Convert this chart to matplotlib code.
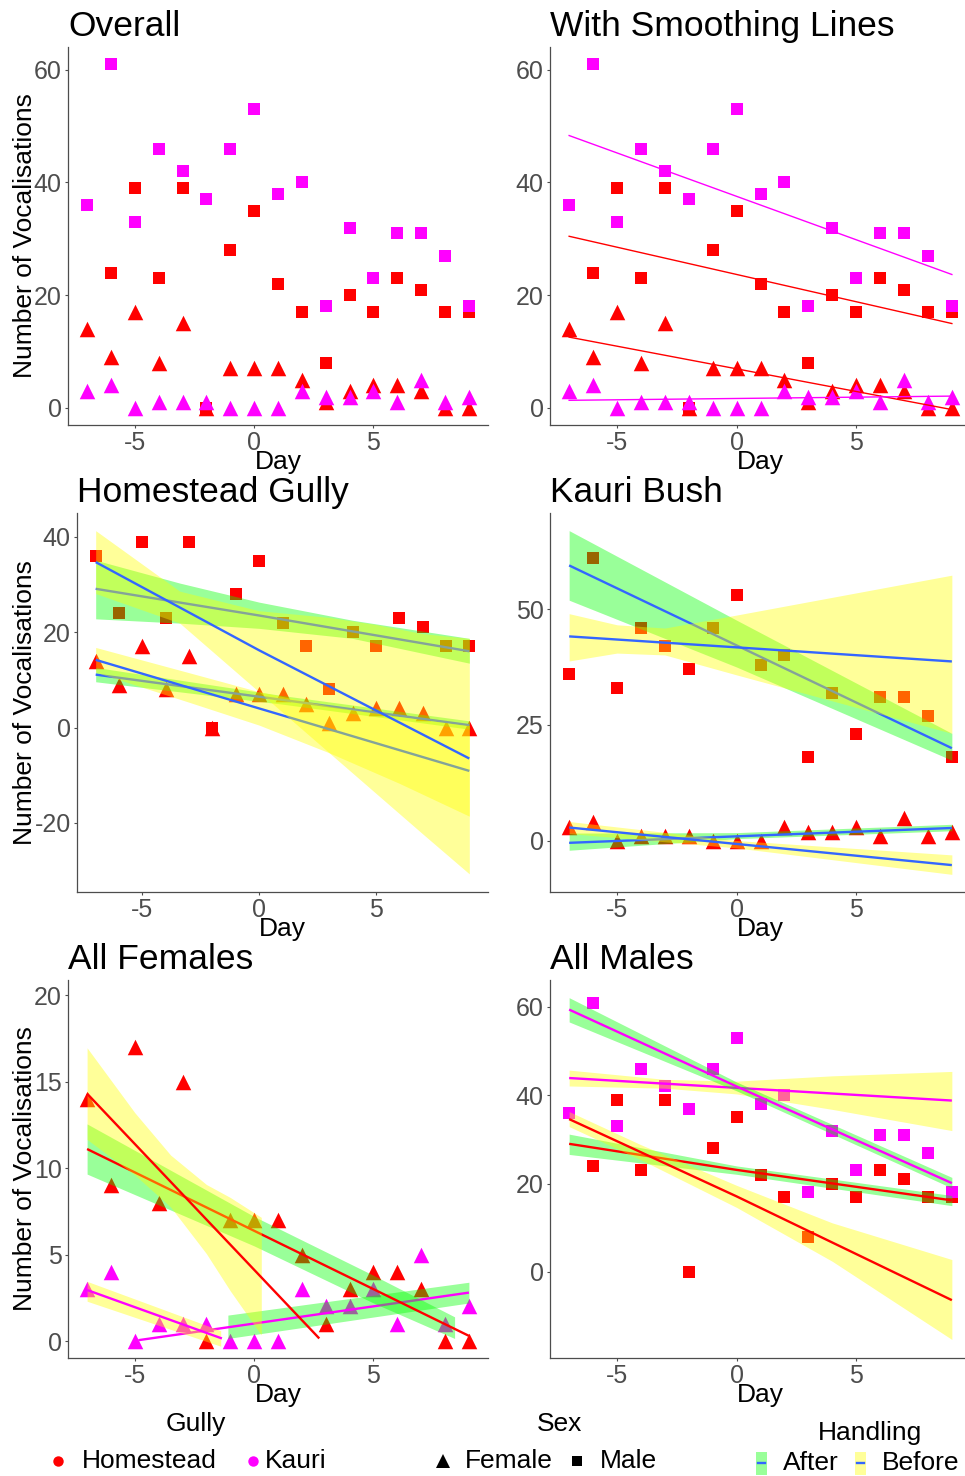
import numpy as np
import matplotlib
matplotlib.use("Agg")
import matplotlib.pyplot as plt
from matplotlib.patches import Rectangle

plt.rcParams['font.family'] = ['Liberation Sans', 'DejaVu Sans']

# ---- observations ----
days = [-7, -6, -5, -4, -3, -2, -1, 0, 1, 2, 3, 4, 5, 6, 7, 8, 9]
homestead_male = [36, 24, 39, 23, 39, 0, 28, 35, 22, 17, 8, 20, 17, 23, 21, 17, 17]
homestead_female = [14, 9, 17, 8, 15, 0, 7, 7, 7, 5, 1, 3, 4, 4, 3, 0, 0]
kauri_male = [36, 61, 33, 46, 42, 37, 46, 53, 38, 40, 18, 32, 23, 31, 31, 27, 18]
kauri_female = [3, 4, 0, 1, 1, 1, 0, 0, 0, 3, 2, 2, 3, 1, 5, 1, 2]

# ---- smoothers (line points, band lower/upper) ----
# Homestead Gully
hg_fa_x, hg_fa_y = [-7, 9], [11.1, 0.5]
hg_fa_bx, hg_fa_lo, hg_fa_hi = [-7, 1, 9], [9.6, 4.9, -0.35], [12.6, 6.7, 1.4]
hg_fb_x, hg_fb_y = [-7, 9], [14.2, -9.1]
hg_fb_bx = [-7, -3, 0, 3, 6, 9]
hg_fb_lo = [11.6, 5.3, 0.5, -5.3, -11.7, -18.6]
hg_fb_hi = [16.8, 11.5, 7.5, 4.5, 2.3, 0.4]
hg_ma_x, hg_ma_y = [-7, 0, 9], [29.1, 23.5, 16.0]
hg_ma_bx = [-7, -3.4, 0, 4, 9]
hg_ma_lo = [22.8, 21.9, 20.8, 18.7, 13.5]
hg_ma_hi = [35.1, 30.3, 26.3, 22.5, 18.7]
hg_mb_x, hg_mb_y = [-7, 0, 9], [34.7, 16.2, -6.5]
hg_mb_bx = [-7, -3.4, 0, 3, 5, 7, 9]
hg_mb_lo = [28.1, 21.9, 7.45, -5.3, -13.8, -22.3, -30.7]
hg_mb_hi = [41.3, 28.6, 24.5, 23.1, 21.6, 19.7, 18.7]

# Kauri Bush
kb_fa_x, kb_fa_y = [-7, 9], [-0.4, 2.8]
kb_fa_bx, kb_fa_lo, kb_fa_hi = [-7, 0, 9], [-2.0, 0.5, 2.2], [1.7, 1.8, 3.6]
kb_fb_x, kb_fb_y = [-7, 9], [2.9, -5.2]
kb_fb_bx, kb_fb_lo, kb_fb_hi = [-7, 0, 9], [1.6, -1.5, -7.2], [4.2, 0.1, -3.0]
kb_ma_x, kb_ma_y = [-7, 9], [59.4, 20.0]
kb_ma_bx, kb_ma_lo, kb_ma_hi = [-7, 0, 9], [51.9, 37.5, 17.4], [66.9, 47.6, 23.2]
kb_mb_x, kb_mb_y = [-7, 9], [44.1, 38.7]
kb_mb_bx = [-7, -5, -3, 0, 9]
kb_mb_lo = [38.8, 40.5, 40.1, 35.8, 23.2]
kb_mb_hi = [49.0, 46.6, 45.9, 48.7, 57.3]

# All Females
af_ka_x, af_ka_y = [-4.85, 9], [0.05, 2.8]
af_ka_bx, af_ka_lo, af_ka_hi = [-1.1, 9], [0.15, 2.2], [1.5, 3.4]
af_kb_x, af_kb_y = [-7, -1.35], [2.95, 0.15]
af_kb_bx, af_kb_lo, af_kb_hi = [-7, -1.4], [2.3, -0.3], [3.45, 0.6]
af_ha_x, af_ha_y = [-7, 9], [11.1, 0.3]
af_ha_bx, af_ha_lo, af_ha_hi = [-7, 0, 5, 8.4], [9.65, 5.5, 2.2, 0.15], [12.55, 7.2, 3.8, 1.4]
af_hb_x, af_hb_y = [-7, 2.73], [14.3, 0.15]
af_hb_bx = [-7, -5, -3.5, -2, -1, 0.3]
af_hb_lo = [11.65, 9.6, 7.75, 5.05, 2.9, 0.35]
af_hb_hi = [16.95, 13.2, 10.75, 9.05, 8.3, 7.15]

# All Males
am_kb_x, am_kb_y = [-7, 9], [43.9, 38.8]
am_kb_bx = [-7, -3, 0, 4, 9]
am_kb_lo = [42.1, 41.6, 40.3, 36.8, 32.0]
am_kb_hi = [45.7, 43.6, 43.2, 44.4, 45.4]
am_ka_x, am_ka_y = [-7, 0, 9], [59.4, 42.0, 20.1]
am_ka_bx, am_ka_lo, am_ka_hi = [-7, 0, 9], [56.6, 41.0, 19.0], [62.1, 43.0, 21.4]
am_ha_x, am_ha_y = [-7, 0, 9], [29.0, 23.1, 16.2]
am_ha_bx, am_ha_lo, am_ha_hi = [-7, 0, 9], [26.6, 22.1, 15.0], [31.2, 24.0, 17.3]
am_hb_x, am_hb_y = [-7, 0, 9], [34.6, 17.1, -6.4]
am_hb_bx = [-7, -4, 0, 4, 9]
am_hb_lo = [32.9, 25.4, 14.6, 2.4, -15.3]
am_hb_hi = [36.3, 28.8, 19.6, 11.1, 2.8]

RED = '#FF0000'
MAGENTA = '#FF00FF'
BLUE = '#3366FF'
GREEN = '#00FF00'
YELLOW = '#FFFF00'
AXCOL = '#4D4D4D'

W, H = 965, 1476
fig = plt.figure(figsize=(W / 100, H / 100), dpi=100)


def add_ax(left, top, right, bottom):
    return fig.add_axes([left / W, 1 - bottom / H, (right - left) / W, (bottom - top) / H])


def style(ax, title, ylim, yticks, top, bottom, ylabel=False):
    ax.set_xlim(-7.8, 9.8)
    ax.set_ylim(*ylim)
    for s in ['top', 'right']:
        ax.spines[s].set_visible(False)
    for s in ['left', 'bottom']:
        ax.spines[s].set_color(AXCOL)
        ax.spines[s].set_linewidth(0.9)
    ax.set_xticks([-5, 0, 5])
    ax.set_xticklabels(['-5', '0', '5'])
    ax.set_yticks(yticks)
    ax.set_yticklabels([str(t) for t in yticks])
    ax.tick_params(axis='both', labelsize=18, labelcolor=AXCOL, color=AXCOL,
                   length=2.5, width=0.8, pad=2)
    ax.set_xlabel('Day', fontsize=19, labelpad=-3.5)
    ax.text(0, 1 + 11 / (bottom - top), title, transform=ax.transAxes,
            fontsize=25.5, ha='left', va='baseline')
    if ylabel:
        fig.text(25 / W, 1 - (top + bottom) / 2 / H, 'Number of Vocalisations',
                 rotation=90, fontsize=19, ha='center', va='center')


def points(ax, x, y, colour, marker):
    size = 125 if marker == '^' else 76
    ax.scatter(x, y, s=size, c=colour, marker=marker, linewidths=0, zorder=1)


def smooths(ax, fits):
    z = 2
    for lx, ly, bx, lo, hi, fill, lc in fits:
        ax.fill_between(bx, lo, hi, color=fill, alpha=0.4, linewidth=0, zorder=z)
        ax.plot(lx, ly, color=lc, lw=1.7, zorder=z + 1, solid_capstyle='butt')
        z += 2


# ---- Overall ----
ax1 = add_ax(68, 47, 488, 425)
points(ax1, days, homestead_male, RED, 's')
points(ax1, days, homestead_female, RED, '^')
points(ax1, days, kauri_male, MAGENTA, 's')
points(ax1, days, kauri_female, MAGENTA, '^')
style(ax1, 'Overall', (-3.05, 64.05), [0, 20, 40, 60], 47, 425, ylabel=True)

# ---- With smoothing lines ----
ax2 = add_ax(550, 47, 971, 425)
points(ax2, days, homestead_male, RED, 's')
points(ax2, days, homestead_female, RED, '^')
points(ax2, days, kauri_male, MAGENTA, 's')
points(ax2, days, kauri_female, MAGENTA, '^')
for series, col in [(homestead_male, RED), (homestead_female, RED),
                    (kauri_male, MAGENTA), (kauri_female, MAGENTA)]:
    slope, icept = np.polyfit(days, series, 1)
    xs = np.array([days[0], days[-1]])
    ax2.plot(xs, icept + slope * xs, color=col, lw=1.0, zorder=5)
style(ax2, 'With Smoothing Lines', (-3.05, 64.05), [0, 20, 40, 60], 47, 425)

# ---- Homestead Gully ----
ax3 = add_ax(77, 513, 488, 892)
points(ax3, days, homestead_male, RED, 's')
points(ax3, days, homestead_female, RED, '^')
smooths(ax3, [
    (hg_fa_x, hg_fa_y, hg_fa_bx, hg_fa_lo, hg_fa_hi, GREEN, BLUE),
    (hg_fb_x, hg_fb_y, hg_fb_bx, hg_fb_lo, hg_fb_hi, YELLOW, BLUE),
    (hg_ma_x, hg_ma_y, hg_ma_bx, hg_ma_lo, hg_ma_hi, GREEN, BLUE),
    (hg_mb_x, hg_mb_y, hg_mb_bx, hg_mb_lo, hg_mb_hi, YELLOW, BLUE),
])
style(ax3, 'Homestead Gully', (-34.5, 45.0), [-20, 0, 20, 40], 513, 892, ylabel=True)

# ---- Kauri Bush ----
ax4 = add_ax(550, 513, 971, 892)
points(ax4, days, kauri_male, RED, 's')
points(ax4, days, kauri_female, RED, '^')
smooths(ax4, [
    (kb_fa_x, kb_fa_y, kb_fa_bx, kb_fa_lo, kb_fa_hi, GREEN, BLUE),
    (kb_fb_x, kb_fb_y, kb_fb_bx, kb_fb_lo, kb_fb_hi, YELLOW, BLUE),
    (kb_ma_x, kb_ma_y, kb_ma_bx, kb_ma_lo, kb_ma_hi, GREEN, BLUE),
    (kb_mb_x, kb_mb_y, kb_mb_bx, kb_mb_lo, kb_mb_hi, YELLOW, BLUE),
])
style(ax4, 'Kauri Bush', (-11.0, 70.7), [0, 25, 50], 513, 892)

# ---- All Females ----
ax5 = add_ax(68, 980, 488, 1358)
points(ax5, days, homestead_female, RED, '^')
points(ax5, days, kauri_female, MAGENTA, '^')
smooths(ax5, [
    (af_ka_x, af_ka_y, af_ka_bx, af_ka_lo, af_ka_hi, GREEN, MAGENTA),
    (af_kb_x, af_kb_y, af_kb_bx, af_kb_lo, af_kb_hi, YELLOW, MAGENTA),
    (af_ha_x, af_ha_y, af_ha_bx, af_ha_lo, af_ha_hi, GREEN, RED),
    (af_hb_x, af_hb_y, af_hb_bx, af_hb_lo, af_hb_hi, YELLOW, RED),
])
style(ax5, 'All Females', (-0.98, 20.87), [0, 5, 10, 15, 20], 980, 1358, ylabel=True)

# ---- All Males ----
ax6 = add_ax(550, 980, 971, 1358)
points(ax6, days, homestead_male, RED, 's')
points(ax6, days, kauri_male, MAGENTA, 's')
smooths(ax6, [
    (am_kb_x, am_kb_y, am_kb_bx, am_kb_lo, am_kb_hi, YELLOW, MAGENTA),
    (am_ka_x, am_ka_y, am_ka_bx, am_ka_lo, am_ka_hi, GREEN, MAGENTA),
    (am_ha_x, am_ha_y, am_ha_bx, am_ha_lo, am_ha_hi, GREEN, RED),
    (am_hb_x, am_hb_y, am_hb_bx, am_hb_lo, am_hb_hi, YELLOW, RED),
])
style(ax6, 'All Males', (-19.5, 66.1), [0, 20, 40, 60], 980, 1358)

# ---- legends (pixel coordinate overlay) ----
lax = fig.add_axes([0, 0, 1, 1], facecolor='none')
lax.set_xlim(0, W)
lax.set_ylim(H, 0)
lax.axis('off')

lax.text(196, 1424, 'Gully', fontsize=19, ha='center', va='center')
lax.plot([58], [1461], 'o', color=RED, ms=7.5, mew=0)
lax.text(82, 1461, 'Homestead', fontsize=19, ha='left', va='center')
lax.plot([253], [1461], 'o', color=MAGENTA, ms=7.5, mew=0)
lax.text(265, 1461, 'Kauri', fontsize=19, ha='left', va='center')

lax.text(560, 1424, 'Sex', fontsize=19, ha='center', va='center')
lax.plot([443], [1461], '^', color='black', ms=9.5, mew=0)
lax.text(465, 1461, 'Female', fontsize=19, ha='left', va='center')
lax.plot([577], [1461], 's', color='black', ms=7.5, mew=0)
lax.text(600, 1461, 'Male', fontsize=19, ha='left', va='center')

lax.text(870, 1433, 'Handling', fontsize=19, ha='center', va='center')
for x0, fill, label in [(756, GREEN, 'After'), (855, YELLOW, 'Before')]:
    lax.add_patch(Rectangle((x0, 1452), 11, 23, facecolor=fill, alpha=0.4, linewidth=0))
    lax.plot([x0 + 2, x0 + 9], [1463, 1463], color=BLUE, lw=1.7)
    lax.text(x0 + 27, 1463, label, fontsize=19, ha='left', va='center')

fig.savefig('out.png', dpi=100)
